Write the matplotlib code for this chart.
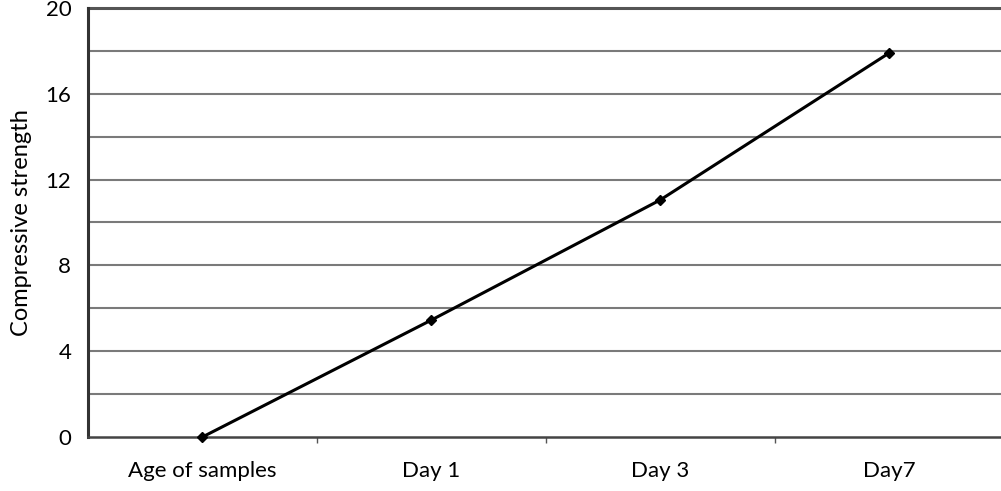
import matplotlib
matplotlib.use("Agg")
import matplotlib.pyplot as plt
import numpy as np

# values
categories = ["Age of samples", "Day 1", "Day 3", "Day7"]
strength = [0.0, 5.45, 11.05, 17.9]
y_ticks = [0, 4, 8, 12, 16, 20]

plt.rcParams['font.family'] = ['Lato', 'DejaVu Sans']

fig = plt.figure(figsize=(10.01, 4.91), dpi=100)
ax = fig.add_axes([0.0879, 0.110, 0.9146, 0.8737])

x = np.arange(len(categories))
ax.plot(x, strength, color='black', linewidth=2.2, marker='D', markersize=5,
        clip_on=False, zorder=3)

ax.set_xlim(-0.5, len(categories) - 0.5)
ax.set_ylim(0, 20)

# horizontal grid every 2 units
for g in np.arange(2, 20, 2):
    ax.axhline(g, color='#7a7a7a', linewidth=1.5, zorder=1)

ax.set_yticks(y_ticks)
ax.set_yticklabels([str(v) for v in y_ticks], fontsize=16)
ax.tick_params(axis='y', which='both', length=0, pad=12)

ax.set_xticks(x)
ax.set_xticklabels(categories, fontsize=16)
ax.set_xticks(x[:-1] + 0.5, minor=True)
ax.tick_params(axis='x', which='major', length=0, pad=17)
ax.tick_params(axis='x', which='minor', length=4, width=1, color='#555555')

for side in ['top', 'right']:
    ax.spines[side].set_visible(False)
ax.spines['left'].set_linewidth(2.2)
ax.spines['left'].set_color('#333333')
ax.spines['bottom'].set_linewidth(1.8)
ax.spines['bottom'].set_color('#444444')
ax.axhline(20, color='#555555', linewidth=2.2, clip_on=False)

ax.set_ylabel("Compressive strength", fontsize=17, labelpad=10)

fig.savefig("out.png", dpi=100)
